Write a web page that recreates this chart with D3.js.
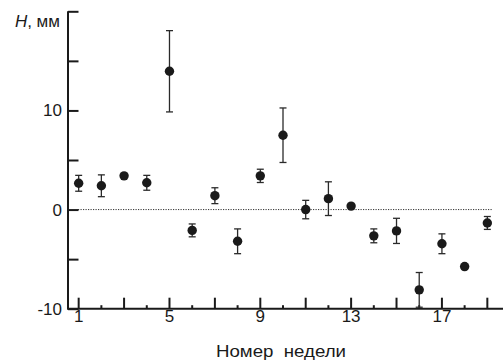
<!DOCTYPE html>
<html>
<head>
<meta charset="utf-8">
<script src="https://cdn.jsdelivr.net/npm/d3@7"></script>
<style>
  html, body { margin: 0; padding: 0; background: #fff; }
  svg { display: block; }
  text { font-family: "Liberation Sans", Arial, sans-serif; fill: #1a1a1a; }
</style>
</head>
<body>
<svg id="chart" width="503" height="362"></svg>
<script>
// Data
const weeks = [1, 2, 3, 4, 5, 6, 7, 8, 9, 10, 11, 12, 13, 14, 15, 16, 17, 18, 19];
const meanH = [2.65, 2.4, 3.4, 2.7, 13.95, -2.1, 1.4, -3.2, 3.4, 7.5, 0.0, 1.1, 0.35, -2.65, -2.15, -8.1, -3.45, -5.75, -1.35];
const errH  = [0.8, 1.1, 0, 0.75, 4.1, 0.65, 0.8, 1.25, 0.67, 2.75, 0.93, 1.7, 0, 0.7, 1.27, 1.75, 1.0, 0, 0.65];
const yTickValues = [-10, -5, 0, 5, 10, 15, 20];
const yTickLabels = {"-10": "-10", "0": "0", "10": "10"};
const xTickValues = [1,2,3,4,5,6,7,8,9,10,11,12,13,14,15,16,17,18,19];
const xTickLabels = {1: "1", 5: "5", 9: "9", 13: "13", 17: "17"};
const yTitle = "мм";
const xTitle = "Номер\u00a0\u00a0недели";

const svg = d3.select("#chart");
const ink = "#1a1a1a";

const x = d3.scaleLinear().domain([0.53, 19.69]).range([68, 503]);
const y = d3.scaleLinear().domain([-10, 20]).range([308.7, 11.3]);

// zero dotted line
svg.append("line")
  .attr("x1", x.range()[0] + 10).attr("x2", x(19) + 5)
  .attr("y1", y(0)).attr("y2", y(0))
  .attr("stroke", "#333").attr("stroke-width", 1)
  .attr("stroke-dasharray", "1.2,1.3");

// Y axis
const yAxis = d3.axisRight(y).tickValues(yTickValues).tickSize(10.5).tickSizeOuter(0)
  .tickFormat(() => "");
const gy = svg.append("g").attr("transform", `translate(${x.range()[0]},0)`).call(yAxis);
gy.select(".domain").attr("stroke", ink).attr("stroke-width", 2).attr("d", `M0,${y(-10)}V${y(20)}`);
gy.selectAll(".tick line").attr("stroke", ink).attr("stroke-width", 2);

// Y labels
svg.selectAll(".ylab").data(yTickValues.filter(v => yTickLabels[v] !== undefined))
  .enter().append("text")
  .attr("x", 62).attr("y", d => y(d))
  .attr("dy", "0.35em").attr("text-anchor", "end")
  .attr("font-size", 17)
  .text(d => yTickLabels[d]);

// Y title
const yt = svg.append("text").attr("x", 60).attr("y", 26.5).attr("text-anchor", "end").attr("font-size", 17);
yt.append("tspan").attr("font-style", "italic").text("H");
yt.append("tspan").text(", " + yTitle);

// X axis
const gx = svg.append("g").attr("transform", `translate(0,${y(-10)})`);
gx.append("line").attr("x1", x.range()[0] - 1).attr("x2", x.range()[1])
  .attr("stroke", ink).attr("stroke-width", 2);
gx.selectAll(".xt").data(xTickValues).enter().append("line")
  .attr("x1", d => x(d)).attr("x2", d => x(d))
  .attr("y1", 0).attr("y2", d => d % 2 === 1 ? -11 : -3.5)
  .attr("stroke", ink).attr("stroke-width", 2);
gx.selectAll(".xl").data(xTickValues.filter(d => xTickLabels[d] !== undefined)).enter().append("text")
  .attr("x", d => x(d)).attr("y", 13.5)
  .attr("text-anchor", "middle").attr("font-size", 17)
  .text(d => xTickLabels[d]);

// X title
svg.append("text").attr("x", 216).attr("y", 356.5).attr("text-anchor", "start")
  .attr("font-size", 16.5).attr("textLength", 130).attr("lengthAdjust", "spacingAndGlyphs")
  .text(xTitle);

// Error bars
const data = weeks.map((w, i) => ({w, m: meanH[i], e: errH[i]}));
const eb = svg.append("g").attr("stroke", "#2a2a2a").attr("stroke-width", 1.3);
data.filter(d => d.e > 0).forEach(d => {
  const cx = x(d.w);
  eb.append("line").attr("x1", cx).attr("x2", cx).attr("y1", y(d.m - d.e)).attr("y2", y(d.m + d.e));
  eb.append("line").attr("x1", cx - 3.5).attr("x2", cx + 3.5).attr("y1", y(d.m - d.e)).attr("y2", y(d.m - d.e));
  eb.append("line").attr("x1", cx - 3.5).attr("x2", cx + 3.5).attr("y1", y(d.m + d.e)).attr("y2", y(d.m + d.e));
});

// Points
svg.append("g").selectAll("circle").data(data).enter().append("circle")
  .attr("cx", d => x(d.w)).attr("cy", d => y(d.m)).attr("r", 4.7)
  .attr("fill", ink);
</script>
</body>
</html>
